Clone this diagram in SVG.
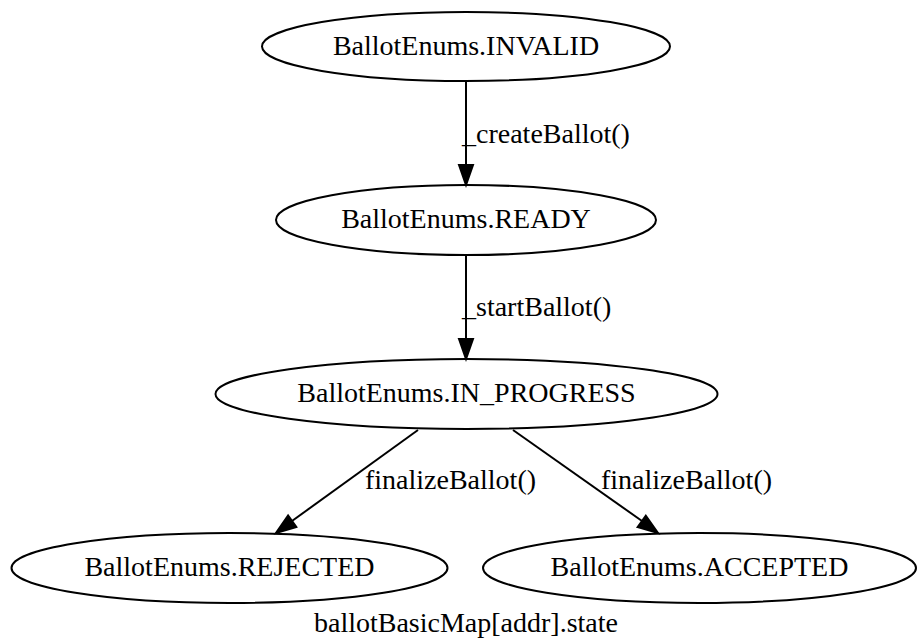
<svg xmlns="http://www.w3.org/2000/svg" width="917" height="641" viewBox="0 0 917 641">
  <style>
    .node ellipse { fill: none; stroke: #000; stroke-width: 2; }
    .node text, .lbl, .title { font-family: "Liberation Serif", "Times New Roman", serif; font-size: 28px; fill: #000; }
    .node text, .title { text-anchor: middle; }
    .edge line { stroke: #000; stroke-width: 2; }
    .edge polygon { fill: #000; stroke: #000; stroke-width: 2; }
  </style>
  <rect width="917" height="641" fill="#fff"/>

  <g id="edges">
    <g class="edge" id="e-invalid-ready">
      <line x1="466" y1="82" x2="466" y2="166"/>
      <polygon points="459,165 466,185 473,165"/>
      <text class="lbl" x="462" y="143">_createBallot()</text>
    </g>
    <g class="edge" id="e-ready-progress">
      <line x1="466" y1="256" x2="466" y2="340"/>
      <polygon points="459,339 466,359 473,339"/>
      <text class="lbl" x="462" y="316">_startBallot()</text>
    </g>
    <g class="edge" id="e-progress-rejected">
      <line x1="418" y1="430" x2="292" y2="521"/>
      <polygon points="296.3,527 276,533 288.1,515.6"/>
      <text class="lbl" x="365" y="489">finalizeBallot()</text>
    </g>
    <g class="edge" id="e-progress-accepted">
      <line x1="513" y1="430" x2="642" y2="521"/>
      <polygon points="637.6,527.1 658,533 645.8,515.7"/>
      <text class="lbl" x="601" y="489">finalizeBallot()</text>
    </g>
  </g>

  <g class="node" id="invalid">
    <ellipse cx="466" cy="46.5" rx="204" ry="34.5"/>
    <text x="466" y="55">BallotEnums.INVALID</text>
  </g>
  <g class="node" id="ready">
    <ellipse cx="466" cy="220" rx="190" ry="35"/>
    <text x="466" y="228">BallotEnums.READY</text>
  </g>
  <g class="node" id="in_progress">
    <ellipse cx="466.5" cy="394" rx="251" ry="35"/>
    <text x="466.5" y="402">BallotEnums.IN_PROGRESS</text>
  </g>
  <g class="node" id="rejected">
    <ellipse cx="229.5" cy="568" rx="218" ry="35"/>
    <text x="229.5" y="576">BallotEnums.REJECTED</text>
  </g>
  <g class="node" id="accepted">
    <ellipse cx="699.5" cy="568" rx="216.5" ry="35"/>
    <text x="699.5" y="576">BallotEnums.ACCEPTED</text>
  </g>

  <text class="title" x="466" y="632">ballotBasicMap[addr].state</text>
</svg>
